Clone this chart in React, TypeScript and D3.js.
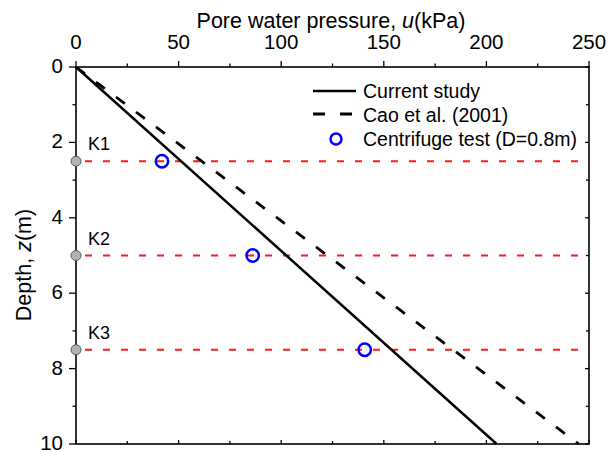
import React from "react";
import * as d3 from "d3";

const depthEnds = [0, 10];
const currentStudy = [0, 205];
const caoEtAl = [0, 245];
const testDepths = [2.5, 5, 7.5];
const testPressure = [41.9, 86.1, 140.7];
const sensorLabels = ["K1", "K2", "K3"];
const xTicks = [0, 50, 100, 150, 200, 250];
const yTicks = [0, 2, 4, 6, 8, 10];

const W = 608, H = 452;
const L = 76, R = 589, T = 67, B = 444;
const FONT = "'Liberation Sans', Arial, Helvetica, sans-serif";

export default function App() {
  const x = d3.scaleLinear().domain([0, 250]).range([L, R]);
  const y = d3.scaleLinear().domain([0, 10]).range([T, B]);
  const xMinor = d3.range(0, 251, 25);
  const yMinor = d3.range(0, 11, 1);
  const line = d3.line<[number, number]>().x((d) => x(d[0])).y((d) => y(d[1]));
  const cur = line(depthEnds.map((z, i) => [currentStudy[i], z]) as [number, number][]) || "";
  const cao = line(depthEnds.map((z, i) => [caoEtAl[i], z]) as [number, number][]) || "";

  return (
    <svg width={W} height={H} style={{ position: "absolute", left: 0, top: 0 }} fontFamily={FONT}>
      <rect x={0} y={0} width={W} height={H} fill="#fff" />
      {testDepths.map((z, i) => (
        <line key={"r" + i} x1={L + 5} x2={R} y1={y(z)} y2={y(z)} stroke="#ff1a1a" strokeWidth={2} strokeDasharray="7,11" strokeDashoffset={-4} />
      ))}
      <path d={cao} fill="none" stroke="#000" strokeWidth={2.8} strokeDasharray="11,14" />
      <path d={cur} fill="none" stroke="#000" strokeWidth={2.5} />
      {testDepths.map((z, i) => (
        <circle key={"c" + i} cx={x(testPressure[i])} cy={y(z)} r={6.2} fill="none" stroke="#0000ff" strokeWidth={2.5} />
      ))}
      <rect x={L} y={T} width={R - L} height={B - T} fill="none" stroke="#000" strokeWidth={1.6} />
      {xMinor.map((v) => {
        const major = v % 50 === 0;
        return <line key={"tx" + v} x1={x(v)} x2={x(v)} y1={T} y2={T - (major ? 6 : 3.5)} stroke="#000" strokeWidth={1.3} />;
      })}
      {xMinor.map((v) => {
        const major = v % 50 === 0;
        return <line key={"bx" + v} x1={x(v)} x2={x(v)} y1={B} y2={B - (major ? 4 : 3)} stroke="#000" strokeWidth={1.3} />;
      })}
      {yMinor.map((v) => {
        const major = v % 2 === 0;
        return <line key={"ly" + v} x1={L} x2={L - (major ? 7 : 3.5)} y1={y(v)} y2={y(v)} stroke="#000" strokeWidth={1.3} />;
      })}
      {yMinor.map((v) => {
        const major = v % 2 === 0;
        return <line key={"ry" + v} x1={R} x2={R - (major ? 4 : 3)} y1={y(v)} y2={y(v)} stroke="#000" strokeWidth={1.3} />;
      })}
      {xTicks.map((v) => (
        <text key={"xl" + v} x={x(v)} y={T - 18.5} textAnchor="middle" fontSize={20.5} fill="#000">{v}</text>
      ))}
      {yTicks.map((v) => (
        <text key={"yl" + v} x={L - 13} y={y(v) + 6} textAnchor="end" fontSize={20.5} fill="#000">{v}</text>
      ))}
      <text x={(193 + 469) / 2} y={28} textAnchor="middle" fontSize={21.5} fill="#000">
        Pore water pressure, <tspan fontStyle="italic">u</tspan>(kPa)
      </text>
      <text transform={`translate(31,265) rotate(-90)`} textAnchor="middle" fontSize={21.5} fill="#000">
        Depth, <tspan fontStyle="italic">z</tspan>(m)
      </text>
      {testDepths.map((z, i) => (
        <g key={"k" + i}>
          <circle cx={L} cy={y(z)} r={5} fill="#b3b3b3" stroke="#555" strokeWidth={1} />
          <text x={88} y={y(z) - 11} fontSize={18} fill="#000">{sensorLabels[i]}</text>
        </g>
      ))}
      <line x1={313} x2={356} y1={91} y2={91} stroke="#000" strokeWidth={2.5} />
      <text x={363} y={97.5} fontSize={19.5} fill="#000">Current study</text>
      <line x1={313} x2={356} y1={114} y2={114} stroke="#000" strokeWidth={2.8} strokeDasharray="12,15" />
      <text x={363} y={121.5} fontSize={19.5} fill="#000">Cao et al. (2001)</text>
      <circle cx={336} cy={139} r={5.5} fill="none" stroke="#0000ff" strokeWidth={2.5} />
      <text x={363} y={146} fontSize={19.5} fill="#000">Centrifuge test (D=0.8m)</text>
    </svg>
  );
}
